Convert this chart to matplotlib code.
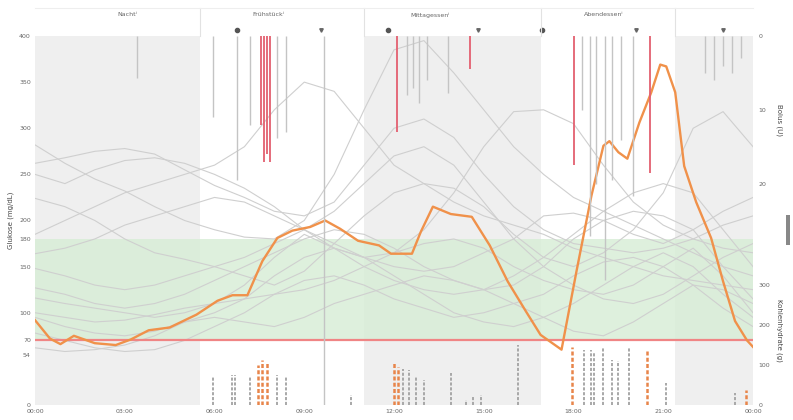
import numpy as np
import matplotlib
matplotlib.use("Agg")
import matplotlib.pyplot as plt
from matplotlib.lines import Line2D

# --- Daten ---
hours = list(range(25))

# Hervorgehobener Tag (Glukose, mg/dL)
main_t = [0.0, 0.5, 0.85, 1.3, 2.0, 2.7, 3.2, 3.8, 4.5, 5.4, 6.1, 6.6, 7.1, 7.6, 8.1, 8.6,
          9.2, 9.7, 10.2, 10.8, 11.5, 11.9, 12.6, 12.9, 13.3, 13.9, 14.6, 15.2, 15.8, 16.4,
          16.9, 17.6, 18.1, 18.6, 19.0, 19.2, 19.5, 19.8, 20.2, 20.6, 20.9, 21.1, 21.4,
          21.7, 22.1, 22.6, 23.0, 23.4, 23.8, 24.0]
main_g = [92, 72, 66, 75, 67, 65, 71, 81, 84, 98, 113, 119, 119, 156, 181, 189,
          193, 200, 191, 178, 173, 164, 164, 188, 215, 207, 204, 173, 134, 102,
          76, 60, 145, 227, 281, 286, 274, 267, 306, 339, 369, 367, 339,
          259, 220, 181, 134, 91, 70, 63]

# Andere Tage (grau), stündliche Werte
day01 = [282, 262, 245, 232, 215, 200, 190, 182, 180, 200, 250, 320, 385, 395, 360, 320, 280, 250, 225, 210, 195, 180, 165, 150, 140]
day02 = [262, 268, 275, 278, 272, 255, 238, 225, 210, 205, 220, 260, 300, 310, 290, 250, 215, 190, 175, 170, 165, 170, 180, 195, 205]
day03 = [250, 240, 255, 265, 268, 262, 250, 235, 215, 190, 170, 160, 165, 190, 230, 280, 318, 320, 305, 260, 220, 195, 180, 170, 165]
day04 = [224, 215, 200, 180, 165, 158, 150, 140, 130, 145, 175, 205, 230, 240, 235, 215, 185, 160, 150, 165, 190, 230, 300, 318, 280]
day05 = [164, 170, 180, 195, 205, 215, 225, 220, 205, 190, 175, 160, 150, 145, 150, 165, 180, 205, 208, 200, 185, 175, 190, 210, 225]
day06 = [148, 140, 130, 125, 130, 140, 150, 160, 175, 190, 210, 240, 270, 280, 260, 220, 180, 150, 130, 115, 110, 120, 140, 160, 175]
day07 = [127, 120, 110, 105, 110, 120, 135, 150, 165, 180, 190, 185, 170, 150, 135, 125, 130, 150, 180, 200, 210, 205, 190, 150, 115]
day08 = [116, 110, 105, 100, 95, 100, 110, 130, 160, 185, 170, 150, 135, 125, 120, 125, 140, 160, 185, 210, 230, 240, 230, 190, 150]
day09 = [100, 95, 90, 92, 98, 105, 110, 115, 120, 125, 135, 150, 165, 175, 180, 170, 150, 135, 125, 120, 130, 150, 170, 140, 100]
day10 = [95, 85, 78, 75, 80, 90, 100, 115, 140, 160, 170, 160, 140, 120, 100, 90, 85, 95, 110, 130, 150, 165, 150, 120, 95]
day11 = [78, 70, 62, 58, 60, 70, 85, 100, 120, 135, 140, 130, 115, 105, 95, 100, 110, 120, 140, 155, 160, 150, 130, 105, 85]
day12 = [62, 58, 60, 65, 75, 90, 95, 90, 85, 95, 110, 120, 130, 140, 135, 125, 110, 95, 80, 75, 90, 110, 130, 125, 110]
day13 = [185, 200, 215, 230, 240, 250, 260, 280, 320, 350, 340, 300, 260, 240, 220, 205, 195, 185, 170, 160, 150, 140, 135, 130, 125]
other_days = [day01, day02, day03, day04, day05, day06, day07, day08, day09, day10, day11, day12, day13]

# Bolus (U)
bolus_main_t = [7.55, 7.65, 7.75, 7.85, 12.1, 14.55, 18.0, 20.55]
bolus_main_u = [12, 17, 16, 17, 13, 4.5, 17.5, 18.5]
bolus_other_t = [3.42, 5.95, 6.75, 7.2, 8.1, 8.4, 9.65, 12.45, 12.65, 12.85, 13.1, 13.8,
                 18.3, 18.55, 18.75, 19.05, 19.3, 19.6, 20.0, 22.4, 22.7, 23.0, 23.3, 23.6]
bolus_other_u = [5.7, 11, 19.5, 12, 13.8, 13, 50, 8, 7, 9, 6, 7.7,
                 10, 27, 20, 33, 19.5, 14, 21.7, 5, 6, 4, 5, 3]

# Kohlenhydrate (g)
carbs_main_t = [7.45, 7.6, 7.75, 12.0, 12.15, 17.95, 20.45, 23.75]
carbs_main_g = [100, 112, 105, 107, 95, 145, 137, 37]
carbs_other_t = [5.95, 6.6, 6.7, 7.2, 8.1, 8.4, 10.55, 12.3, 12.5, 12.75, 13.0, 13.9, 14.4, 14.65,
                 14.9, 16.15, 18.35, 18.6, 18.7, 19.0, 19.3, 19.5, 19.85, 21.1, 23.4]
carbs_other_g = [70, 75, 75, 70, 75, 72, 25, 90, 87, 70, 62, 80, 12, 20,
                 25, 150, 137, 137, 130, 145, 112, 110, 145, 55, 30]

# Tagesabschnitte
periods = [(0, 5.5, "Nacht"), (5.5, 11.0, "Frühstück"), (11.0, 16.9, "Mittagessen"),
           (16.9, 21.4, "Abendessen"), (21.4, 24.0, "")]
period_label_t = [3.1, 7.8, 13.2, 19.0]
meal_dot_t = [6.75, 11.8, 16.95]
meal_pin_t = [9.55, 14.8, 20.1, 23.0]

xtick_labels = ["00:00", "03:00", "06:00", "09:00", "12:00", "15:00", "18:00", "21:00", "00:00"]
gl_ticks = [0, 54, 70, 100, 150, 180, 200, 250, 300, 350, 400]

# --- Plot ---
W, H = 793, 420
fig = plt.figure(figsize=(W / 100, H / 100), dpi=100)
ax = fig.add_axes([35 / W, 15 / H, 718 / W, 369 / H])
ax.set_xlim(0, 24)
ax.set_ylim(0, 400)

# Hintergrund: graue Abschnitte
for i, (a, b, _) in enumerate(periods):
    if i % 2 == 0:
        ax.axvspan(a, b, color="#efefef", zorder=0, lw=0)

# Zielbereich
ax.axhspan(70, 180, color="#d6edd5", alpha=0.8, zorder=1, lw=0)
ax.axhline(70, color="#f08585", lw=1.6, zorder=3)

for d in other_days:
    ax.plot(hours, d, color="#cfcfcf", lw=0.8, zorder=2)
ax.plot(main_t, main_g, color="#f0914a", lw=1.7, zorder=5)

ax.set_xticks(np.arange(0, 25, 3))
ax.set_xticklabels(xtick_labels)
ax.set_yticks(gl_ticks)
ax.set_yticklabels([str(v) for v in gl_ticks])
for lbl in ax.get_yticklabels():
    if lbl.get_text() == "70":
        lbl.set_color("#e05555")
ax.tick_params(labelsize=4.5, colors="#666666", length=0, pad=3)
ax.set_ylabel("Glukose (mg/dL)", fontsize=5, color="#444444", labelpad=4)
for s in ax.spines.values():
    s.set_visible(False)

# Bolus-Achse (oben, invertiert)
axb = ax.twinx()
axb.set_ylim(49.9, 0)
axb.vlines(bolus_other_t, 0, bolus_other_u, color="#c4c4c4", lw=1.0, zorder=3)
axb.vlines(bolus_main_t, 0, bolus_main_u, color="#e36070", lw=1.3, zorder=4)
axb.set_yticks([0, 10, 20])
axb.tick_params(labelsize=4.5, colors="#666666", length=0, pad=4)
for s in axb.spines.values():
    s.set_visible(False)

# Kohlenhydrat-Achse (unten)
axc = ax.twinx()
axc.set_ylim(0, 922)
axc.vlines(carbs_other_t, 0, carbs_other_g, color="#a8a8a8", lw=1.4,
           linestyles=(0, (1.6, 0.9)), zorder=3)
axc.vlines(carbs_main_t, 0, carbs_main_g, color="#e8854a", lw=1.8,
           linestyles=(0, (1.6, 0.9)), zorder=4)
axc.set_yticks([0, 100, 200, 300])
axc.tick_params(labelsize=4.5, colors="#666666", length=0, pad=4)
for s in axc.spines.values():
    s.set_visible(False)

fig.text(779 / W, 1 - 120 / H, "Bolus (U)", rotation=270, fontsize=5,
         color="#444444", ha="center", va="center")
fig.text(779 / W, 1 - 330 / H, "Kohlenhydrate (g)", rotation=270, fontsize=5,
         color="#444444", ha="center", va="center")

# Kopfzeile
for a, b, _ in periods[1:]:
    x = (35 + a * 718 / 24) / W
    fig.add_artist(Line2D([x, x], [1 - 36 / H, 1 - 8 / H], color="#e2e2e2", lw=0.8))
fig.add_artist(Line2D([35 / W, 753 / W], [1 - 8 / H, 1 - 8 / H], color="#eeeeee", lw=0.8))
for t, (_, _, name) in zip(period_label_t, periods):
    fig.text((35 + t * 718 / 24) / W, 1 - 15 / H, name + "ⁱ", fontsize=4.5,
             color="#666666", ha="center", va="center")
ax.plot(meal_dot_t, [406.5] * len(meal_dot_t), "o", ms=3, color="#555555", clip_on=False, zorder=6)
ax.plot(meal_pin_t, [406.5] * len(meal_pin_t), "v", ms=2.5, color="#666666", clip_on=False, zorder=6)

# kleiner Scroll-Griff rechts
fig.add_artist(plt.Rectangle((786 / W, 1 - 245 / H), 4 / W, 30 / H, color="#888888", lw=0))

fig.savefig("out.png", dpi=100)
